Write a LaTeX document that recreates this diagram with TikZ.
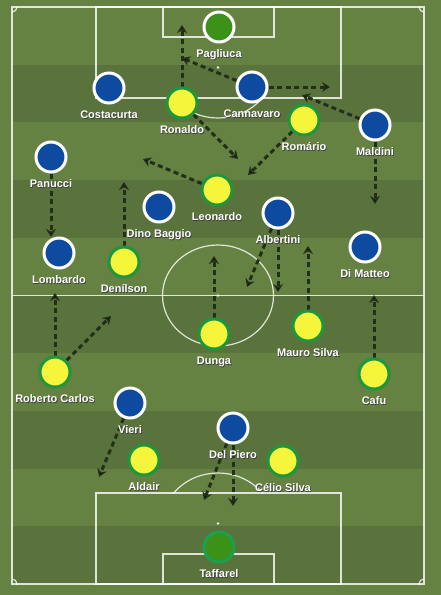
\documentclass[tikz,border=0pt]{standalone}
\usepackage{fontspec}
\setmainfont{Liberation Sans}
\usetikzlibrary{arrows.meta}

\definecolor{grass}{HTML}{658242}
\definecolor{grassdark}{HTML}{5A733C}
\definecolor{itablue}{HTML}{0E4AA0}
\definecolor{brayellow}{HTML}{F5F53C}
\definecolor{bragreen}{HTML}{1E963C}
\definecolor{keeperfill}{HTML}{3C9119}
\definecolor{keeperring}{HTML}{19A050}
\definecolor{runcol}{HTML}{232F1B}

\pgfdeclarelayer{pitch}
\pgfdeclarelayer{runs}
\pgfsetlayers{pitch,runs,main}

% white name with a small dark shadow
\newcommand{\shd}[1]{\rlap{\kern0.8pt\raisebox{-0.8pt}{\color{black!75}#1}}#1}

\begin{document}
\begin{tikzpicture}[x=1pt, y=-1pt,
  pline/.style={white, opacity=0.8, line width=1.2pt},
  player/.style={circle, line width=3pt, minimum size=30pt, inner sep=0pt},
  ita/.style={player, draw=white, fill=itablue},
  bra/.style={player, draw=bragreen, fill=brayellow},
  keeper/.style={player, draw=white, fill=keeperfill},
  every label/.style={white, inner sep=0pt, text height=8pt, text depth=2pt,
    font=\fontsize{11}{13}\selectfont\bfseries},
  label distance=5.5pt,
  run/.style={draw=runcol, line width=3pt, dash pattern=on 5pt off 3.5pt,
    -{Stealth[length=8pt, width=10pt]}}]

\useasboundingbox (0,0) rectangle (441,595);

% pitch
\begin{pgfonlayer}{pitch}
\fill[grass] (0,0) rectangle (441,595);
\foreach \i in {1,3,5,7,9}
  \fill[grassdark] (12,7+\i*57.7) rectangle (424,7+\i*57.7+57.7);
\draw[pline] (12,7) rectangle (424,584);
\draw[pline] (12,295.5) -- (424,295.5);
\draw[pline] (218,295.5) ellipse [x radius=55.5, y radius=50.5];
\fill[white, opacity=0.9] (218,295.5) circle [radius=1.3];
% top end
\draw[pline] (96,7) rectangle (341,98);
\draw[pline] (163,7) rectangle (274,37);
\fill[white, opacity=0.9] (218,67.5) circle [radius=1.3];
\begin{scope}
  \clip (96,98) rectangle (341,200);
  \draw[pline] (218,67.5) ellipse [x radius=55.5, y radius=50.5];
\end{scope}
% bottom end
\draw[pline] (96,493) rectangle (341,584);
\draw[pline] (163,554) rectangle (274,584);
\fill[white, opacity=0.9] (218,523.5) circle [radius=1.3];
\begin{scope}
  \clip (96,400) rectangle (341,493);
  \draw[pline] (218,523.5) ellipse [x radius=55.5, y radius=50.5];
\end{scope}
% corners
\begin{scope}
  \clip (12,7) rectangle (424,584);
  \foreach \cx/\cy in {12/7,424/7,12/584,424/584}
    \draw[pline] (\cx,\cy) circle [radius=5];
\end{scope}
\end{pgfonlayer}

% Italy
\node[keeper] (pagliuca) at (219,27) [label=below:\shd{Pagliuca}] {};
\node[ita] (costacurta) at (109,88) [label=below:\shd{Costacurta}] {};
\node[ita] (cannavaro) at (252,87) [label=below:\shd{Cannavaro}] {};
\node[ita] (maldini) at (375,125) [label=below:\shd{Maldini}] {};
\node[ita] (panucci) at (51,157) [label=below:\shd{Panucci}] {};
\node[ita] (dinobaggio) at (159,207) [label=below:\shd{Dino Baggio}] {};
\node[ita] (albertini) at (278,213) [label=below:\shd{Albertini}] {};
\node[ita] (lombardo) at (59,253) [label=below:\shd{Lombardo}] {};
\node[ita] (dimatteo) at (365,247) [label=below:\shd{Di Matteo}] {};
\node[ita] (vieri) at (130,403) [label=below:\shd{Vieri}] {};
\node[ita] (delpiero) at (233,428) [label=below:\shd{Del Piero}] {};

% Brazil
\node[bra] (ronaldo) at (182,103) [label=below:\shd{Ronaldo}] {};
\node[bra] (romario) at (304,120) [label=below:\shd{Romário}] {};
\node[bra] (leonardo) at (217,190) [label=below:\shd{Leonardo}] {};
\node[bra] (denilson) at (124,262) [label=below:\shd{Denílson}] {};
\node[bra] (dunga) at (214,334) [label=below:\shd{Dunga}] {};
\node[bra] (maurosilva) at (308,326) [label=below:\shd{Mauro Silva}] {};
\node[bra] (robertocarlos) at (55,372) [label=below:\shd{Roberto Carlos}] {};
\node[bra] (cafu) at (374,374) [label=below:\shd{Cafu}] {};
\node[bra] (aldair) at (144,460) [label=below:\shd{Aldair}] {};
\node[bra] (celiosilva) at (283,461) [label=below:\shd{Célio Silva}] {};
\node[keeper, draw=keeperring] (taffarel) at (219,547) [label=below:\shd{Taffarel}] {};

% where the runs end
\coordinate (ron-a) at (182,25);
\coordinate (ron-b) at (238,159);
\coordinate (can-a) at (182,58);
\coordinate (can-b) at (330,87);
\coordinate (mal-a) at (302,95);
\coordinate (mal-b) at (375,204);
\coordinate (rom-a) at (248,175);
\coordinate (leo-a) at (143,159);
\coordinate (pan-a) at (51,237);
\coordinate (den-a) at (124,182);
\coordinate (alb-a) at (247,287);
\coordinate (alb-b) at (278,292);
\coordinate (dun-a) at (214,256);
\coordinate (mau-a) at (308,246);
\coordinate (rob-a) at (55,293);
\coordinate (rob-b) at (111,316);
\coordinate (caf-a) at (374,295);
\coordinate (vie-a) at (99,477);
\coordinate (del-a) at (204,500);
\coordinate (del-b) at (233,506);

\begin{pgfonlayer}{runs}
\draw[run] (ronaldo) edge (ron-a);
\draw[run] (ronaldo) edge (ron-b);
\draw[run] (cannavaro) edge (can-a);
\draw[run] (cannavaro) edge (can-b);
\draw[run] (maldini) edge (mal-a);
\draw[run] (maldini) edge (mal-b);
\draw[run] (romario) edge (rom-a);
\draw[run] (leonardo) edge (leo-a);
\draw[run] (panucci) edge (pan-a);
\draw[run] (denilson) edge (den-a);
\draw[run] (albertini) edge (alb-a);
\draw[run] (albertini) edge (alb-b);
\draw[run] (dunga) edge (dun-a);
\draw[run] (maurosilva) edge (mau-a);
\draw[run] (robertocarlos) edge (rob-a);
\draw[run] (robertocarlos) edge (rob-b);
\draw[run] (cafu) edge (caf-a);
\draw[run] (vieri) edge (vie-a);
\draw[run] (delpiero) edge (del-a);
\draw[run] (delpiero) edge (del-b);
\end{pgfonlayer}

\end{tikzpicture}
\end{document}
